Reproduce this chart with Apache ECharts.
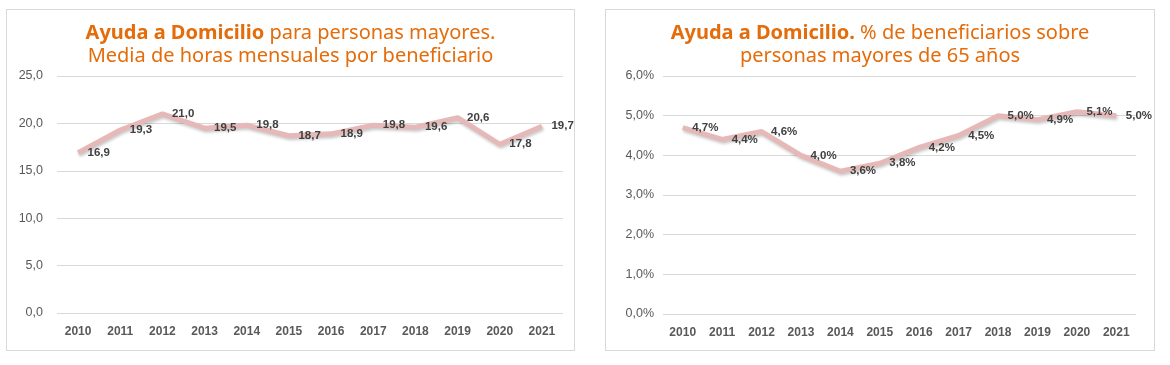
<!DOCTYPE html>
<html>
<head>
<meta charset="utf-8">
<script src="https://cdn.jsdelivr.net/npm/echarts@6/dist/echarts.min.js"></script>
<style>
html,body{margin:0;padding:0;background:#fff;width:1170px;height:365px;overflow:hidden;}
.panel{position:absolute;border:1px solid #d9d9d9;box-sizing:border-box;background:#fff;}
#c1{left:6px;top:9px;width:569px;height:342px;}
#c2{left:605px;top:9px;width:550px;height:342px;}
</style>
</head>
<body>
<div id="c1" class="panel"></div>
<div id="c2" class="panel"></div>
<script>
const years = ['2010','2011','2012','2013','2014','2015','2016','2017','2018','2019','2020','2021'];
const horas = [16.9, 19.3, 21.0, 19.5, 19.8, 18.7, 18.9, 19.8, 19.6, 20.6, 17.8, 19.7];
const porcentaje = [4.7, 4.4, 4.6, 4.0, 3.6, 3.8, 4.2, 4.5, 5.0, 4.9, 5.1, 5.0];
const title1Bold = 'Ayuda a Domicilio';
const title1Rest = ' para personas mayores.';
const title1Line2 = 'Media de horas mensuales por beneficiario';
const title2Bold = 'Ayuda a Domicilio.';
const title2Rest = ' % de beneficiarios sobre';
const title2Line2 = 'personas mayores de 65 años';

const ORANGE = '#E46C0A';
const LINE = '#E6B9B8';
const titleFont = 'Noto Sans';

function fmt(v, d, pct){ return v.toFixed(d).replace('.', ',') + (pct ? '%' : ''); }

function makeOption(cfg){
  return {
    animation:false,
    title:{
      text:'{b|' + cfg.tb + '}{n|' + cfg.tr + '}\n{n|' + cfg.t2 + '}',
      left:'center', top:7,
      textStyle:{
        rich:{
          b:{fontFamily:titleFont, fontSize:20, fontWeight:'bold', color:ORANGE, lineHeight:23},
          n:{fontFamily:titleFont, fontSize:20, fontWeight:'normal', color:ORANGE, lineHeight:23}
        }
      }
    },
    grid:cfg.grid,
    xAxis:{
      type:'category', data:years, boundaryGap:true,
      axisLine:{show:false}, axisTick:{show:false},
      axisLabel:{color:'#595959', fontFamily:'Liberation Sans', fontWeight:'bold', fontSize:12, margin:13}
    },
    yAxis:{
      type:'value', min:0, max:cfg.max, interval:cfg.interval,
      axisLine:{show:false}, axisTick:{show:false},
      splitLine:{lineStyle:{color:'#d9d9d9', width:1}},
      axisLabel:{color:'#595959', fontFamily:'Liberation Sans', fontSize:12.5, margin:cfg.labelMargin,
        formatter:function(v){ return fmt(v, 1, cfg.pct); }}
    },
    series:[{
      type:'line', data:cfg.data,
      symbol:'circle', symbolSize:1,
      itemStyle:{color:'rgba(0,0,0,0)', borderWidth:0},
      lineStyle:{color:LINE, width:5, shadowColor:'rgba(0,0,0,0.22)', shadowBlur:3, shadowOffsetY:2, shadowOffsetX:1},
      label:{show:true, position:'right', distance:9, color:'#404040', fontFamily:'Liberation Sans', fontWeight:'bold', fontSize:11.5,
        formatter:function(p){ return fmt(p.value, 1, cfg.pct); }}
    }]
  };
}

const ch1 = echarts.init(document.getElementById('c1'));
ch1.setOption(makeOption({
  tb:title1Bold, tr:title1Rest, t2:title1Line2,
  grid:{left:50, right:11, top:66, bottom:37},
  max:25, interval:5, pct:false, labelMargin:14, data:horas
}));
const ch2 = echarts.init(document.getElementById('c2'));
ch2.setOption(makeOption({
  tb:title2Bold, tr:title2Rest, t2:title2Line2,
  grid:{left:57, right:18, top:66, bottom:36},
  max:6, interval:1, pct:true, labelMargin:9, data:porcentaje
}));
</script>
</body>
</html>
